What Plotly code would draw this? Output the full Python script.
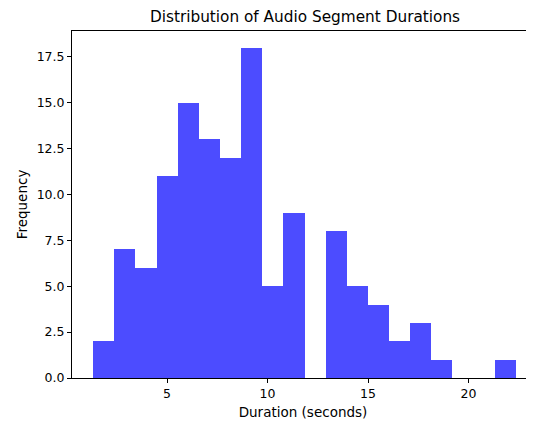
import plotly.graph_objects as go

# Histogram data
bin_start = 1.32
bin_width = 1.052
counts = [2, 7, 6, 11, 15, 13, 12, 18, 5, 9, 0, 8, 5, 4, 2, 3, 1, 0, 0, 1]
x_ticks = [5, 10, 15, 20]
y_ticks = [0, 2.5, 5, 7.5, 10, 12.5, 15, 17.5]
title = "Distribution of Audio Segment Durations"
x_label = "Duration (seconds)"
y_label = "Frequency"

centers = [bin_start + bin_width * (i + 0.5) for i in range(len(counts))]

font = "DejaVu Sans, Verdana, sans-serif"

# the page body adds an 8px offset; the figure is sized to fill the rest
W, H = 526, 413

fig = go.Figure(
    go.Bar(
        x=centers,
        y=counts,
        width=[bin_width] * len(counts),
        marker=dict(color="rgba(0,0,255,0.7)", line=dict(width=0)),
        hoverinfo="x+y",
    )
)

fig.update_layout(
    width=W,
    height=H,
    margin=dict(l=64, r=0, t=23, b=43),
    paper_bgcolor="white",
    plot_bgcolor="white",
    font=dict(family=font, size=12.5, color="black"),
    showlegend=False,
    bargap=0,
    title=dict(
        text=title,
        x=297 / W,
        xanchor="center",
        y=1 - 9 / H,
        yanchor="middle",
        font=dict(family=font, size=15.3, color="black"),
    ),
)

fig.update_xaxes(
    range=[0.27, 23.26],
    tickvals=x_ticks,
    ticktext=[str(v) for v in x_ticks],
    showgrid=False,
    zeroline=False,
    showline=True,
    linecolor="black",
    linewidth=1,
    mirror=True,
    ticks="outside",
    ticklen=4,
    tickwidth=1,
    tickcolor="black",
    tickfont=dict(size=12.5),
    title=dict(text=x_label, font=dict(size=13.5), standoff=7),
)

fig.update_yaxes(
    range=[0, 18.9],
    tickvals=y_ticks,
    ticktext=[f"{v:.1f}" for v in y_ticks],
    showgrid=False,
    zeroline=False,
    showline=True,
    linecolor="black",
    linewidth=1,
    ticks="outside",
    ticklen=4,
    tickwidth=1,
    tickcolor="black",
    tickfont=dict(size=12.5),
    title=dict(text=y_label, font=dict(size=13.5), standoff=5),
)

fig.write_html("out.html")
